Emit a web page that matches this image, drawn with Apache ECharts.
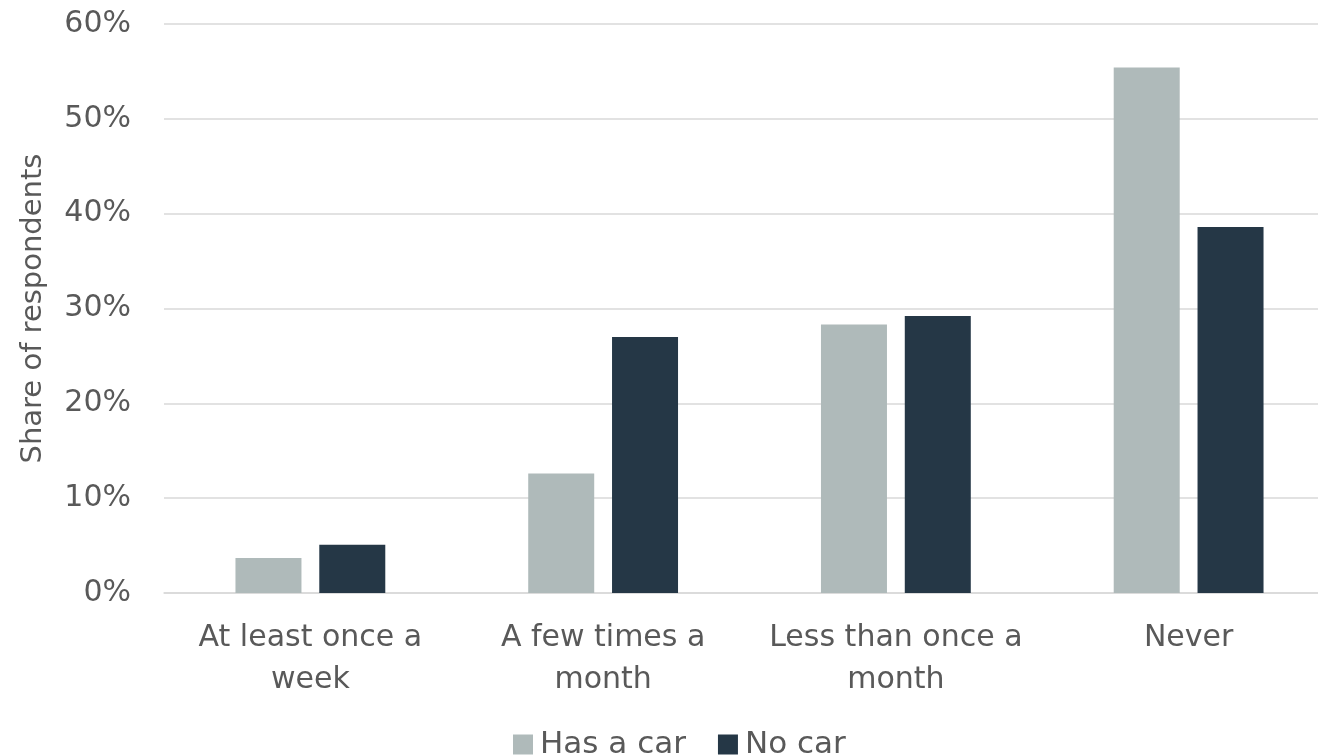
<!DOCTYPE html>
<html>
<head>
<meta charset="utf-8">
<script src="https://cdn.jsdelivr.net/npm/echarts@6/dist/echarts.min.js"></script>
<style>
  html, body { margin: 0; padding: 0; background: #fff; }
  #chart { width: 1318px; height: 755px; }
</style>
</head>
<body>
<div id="chart"></div>
<script>
var categories = ['At least once a\nweek', 'A few times a\nmonth', 'Less than once a\nmonth', 'Never'];
var hasCar = [3.7, 12.6, 28.3, 55.4];
var noCar = [5.1, 27.0, 29.2, 38.6];
var yTicks = [0, 10, 20, 30, 40, 50, 60];

var textColor = '#595959';
var fontFamily = '"DejaVu Sans", sans-serif';

var chart = echarts.init(document.getElementById('chart'));
chart.setOption({
    animation: false,
    textStyle: { fontFamily: fontFamily, color: textColor },
    legend: {
        data: ['Has a car', 'No car'],
        top: 724,
        left: 508,
        itemWidth: 20,
        itemHeight: 20,
        itemGap: 32,
        icon: 'rect',
        textStyle: { fontSize: 31, color: textColor, fontFamily: fontFamily, padding: [0, 0, 0, 2] }
    },
    grid: {
        left: 164,
        width: 1171,
        top: 24,
        bottom: 162,
        containLabel: false,
        outerBoundsMode: 'none'
    },
    xAxis: {
        type: 'category',
        data: categories,
        axisTick: { show: false },
        axisLine: { lineStyle: { color: '#d9d9d9', width: 1.5 } },
        axisLabel: {
            fontSize: 30,
            color: textColor,
            margin: 24,
            lineHeight: 42,
            interval: 0
        }
    },
    yAxis: {
        type: 'value',
        min: yTicks[0],
        max: yTicks[yTicks.length - 1],
        interval: 10,
        name: 'Share of respondents',
        nameLocation: 'middle',
        nameGap: 116,
        nameRotate: 90,
        nameTextStyle: { fontSize: 29, color: textColor },
        axisLine: { show: false },
        axisTick: { show: false },
        axisLabel: {
            fontSize: 30,
            color: textColor,
            margin: 33,
            formatter: '{value}%'
        },
        splitLine: { lineStyle: { color: '#d9d9d9', width: 1.5 } }
    },
    series: [
        {
            name: 'Has a car',
            type: 'bar',
            data: hasCar,
            barWidth: 66,
            barGap: '27%',
            itemStyle: { color: '#afbaba' }
        },
        {
            name: 'No car',
            type: 'bar',
            data: noCar,
            barWidth: 66,
            itemStyle: { color: '#253746' }
        }
    ]
});
</script>
</body>
</html>
